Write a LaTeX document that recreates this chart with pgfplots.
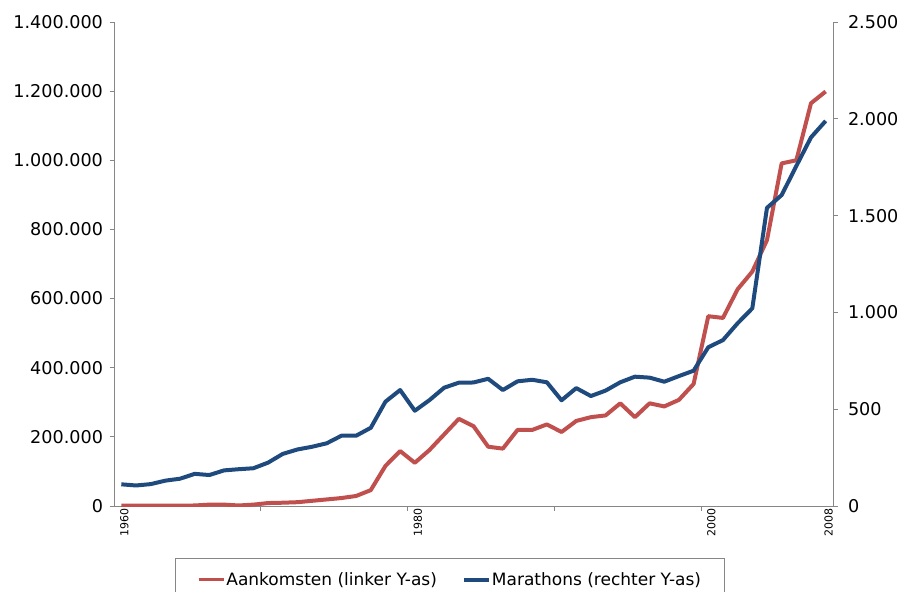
\documentclass[border=0pt]{standalone}
\usepackage{fontspec}
\setmainfont{DejaVu Sans}
\usepackage{pgfplots}
\usepackage{pgfplotstable}
\pgfplotsset{compat=1.18}
\definecolor{myred}{HTML}{C0504D}
\definecolor{myblue}{HTML}{1F4A7E}
\definecolor{axgray}{HTML}{868686}

\pgfplotstableread{
year aank
1960 1000
1961 1000
1962 1000
1963 1000
1964 1000
1965 1500
1966 4000
1967 4000
1968 1500
1969 4000
1970 8500
1971 9500
1972 11000
1973 15000
1974 19000
1975 23000
1976 29000
1977 46000
1978 116000
1979 159000
1980 125000
1981 162000
1982 207000
1983 252000
1984 231000
1985 171500
1986 166000
1987 220000
1988 220000
1989 236000
1990 214000
1991 246000
1992 257000
1993 262000
1994 297000
1995 257000
1996 297000
1997 288000
1998 307000
1999 353000
2000 549000
2001 544000
2002 627000
2003 678000
2004 769000
2005 991000
2006 1000000
2007 1165000
2008 1199000
}\aank

\pgfplotstableread{
year mar
1960 112
1961 106
1962 113
1963 131
1964 141
1965 166
1966 160
1967 184
1968 190
1969 195
1970 224
1971 269
1972 292
1973 306
1974 324
1975 363
1976 363
1977 404
1978 539
1979 599
1980 492
1981 547
1982 611
1983 637
1984 638
1985 657
1986 599
1987 644
1988 652
1989 639
1990 546
1991 609
1992 568
1993 596
1994 639
1995 668
1996 663
1997 642
1998 671
1999 699
2000 820
2001 857
2002 944
2003 1021
2004 1540
2005 1606
2006 1756
2007 1904
2008 1989
}\mar

\pgfplotsset{
  common/.style={
    scale only axis, width=719pt, height=484pt,
    at={(0,0)}, anchor=south west,
    xmin=1959.5, xmax=2008.5,
    ymin=0,
    tick align=outside,
    major tick length=4.5pt,
    every tick/.style={axgray, line width=0.8pt},
    axis line style={axgray, line width=0.8pt},
    scaled y ticks=false,
    yticklabel={\pgfmathprintnumber[fixed, precision=0, 1000 sep={.}, assume math mode=true]{\tick}},
    yticklabel style={font=\fontsize{17.6}{17.6}\selectfont},
  },
}

\begin{document}
\begin{tikzpicture}
\begin{axis}[common,
  axis x line*=bottom, axis y line*=left,
  ymax=1400000, ytick={0,200000,400000,600000,800000,1000000,1200000,1400000},
  yticklabel style={xshift=-3pt},
  xtick={1969.5,1979.5,1989.5,1999.5}, xticklabels={},
  extra x ticks={1960,1980,2000,2008},
  extra x tick labels={1960,1980,2000,2008},
  extra x tick style={major tick length=0pt, tick label style={rotate=90, anchor=east, yshift=-3pt, xshift=1pt, font=\fontsize{11}{11}\selectfont}},
]
\addplot[myred, line width=4pt, line join=round] table[x=year, y=aank] {\aank};
\end{axis}
\begin{axis}[common,
  axis x line=none, axis y line*=right,
  ymax=2500, ytick={0,500,1000,1500,2000,2500},
  yticklabel style={xshift=7pt},
  legend columns=2,
  legend image code/.code={\draw[#1] (0pt,0pt) -- (25pt,0pt);},
  legend style={draw=axgray, line width=0.8pt, at={(0.4666,-0.1075)}, anchor=north,
    inner xsep=22pt, inner ysep=13pt, nodes={inner sep=1pt},
    /tikz/every even column/.append style={column sep=24pt},
    font=\fontsize{17}{17}\selectfont},
]
\addlegendimage{myred, line width=3.5pt}
\addlegendentry{Aankomsten (linker Y-as)}
\addplot[myblue, line width=4pt, line join=round] table[x=year, y=mar] {\mar};
\addlegendentry{Marathons (rechter Y-as)}
\end{axis}
\pgfresetboundingbox
\path (-114pt,-85pt) rectangle (787pt,506pt);
\end{tikzpicture}
\end{document}
